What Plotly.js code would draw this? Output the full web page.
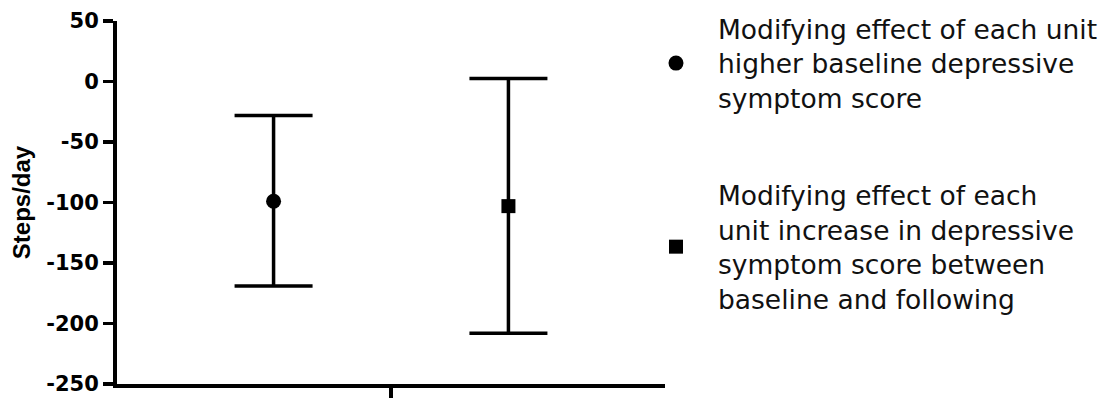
<!DOCTYPE html>
<html>
<head>
<meta charset="utf-8">
<script src="https://cdn.plot.ly/plotly-3.0.1.min.js"></script>
<style>html,body{margin:0;padding:0;background:#fff;}#chart{width:1112px;height:399px;}</style>
</head>
<body>
<div id="chart"></div>
<script>
// Data
var seriesNames = [
  "Modifying effect of each unit<br>higher baseline depressive<br>symptom score",
  "Modifying effect of each<br>unit increase in depressive<br>symptom score between<br>baseline and following"
];
var estimates = [-99, -103];
var upperCI = [-28, 2.5];
var lowerCI = [-169, -208];
var markerSymbols = ["circle", "square"];
var yTickVals = [50, 0, -50, -100, -150, -200, -250];
var yTickText = ["50", "0", "-50", "-100", "-150", "-200", "-250"];
var yTitle = "Steps/day";

var traces = estimates.map(function (est, i) {
  return {
    type: "scatter",
    mode: "markers",
    name: seriesNames[i],
    legendgroup: "g" + i,
    x: [i + 1],
    y: [est],
    marker: { symbol: markerSymbols[i], size: i === 0 ? 15 : 14, color: "#000" },
    error_y: {
      type: "data",
      symmetric: false,
      array: [upperCI[i] - est],
      arrayminus: [est - lowerCI[i]],
      color: "#000",
      thickness: 3.5,
      width: 39
    }
  };
});

var layout = {
  width: 1112,
  height: 399,
  margin: { l: 117, r: 447, t: 21, b: 15, autoexpand: false },
  paper_bgcolor: "#fff",
  plot_bgcolor: "#fff",
  showlegend: true,
  xaxis: {
    range: [1/3, 8/3],
    showgrid: false,
    zeroline: false,
    showline: true,
    linecolor: "#000",
    linewidth: 4,
    ticks: "outside",
    ticklen: 10,
    tickwidth: 3.5,
    tickcolor: "#000",
    tickvals: [1.5],
    ticktext: [""],
    fixedrange: true
  },
  yaxis: {
    range: [-250, 50],
    showgrid: false,
    zeroline: false,
    showline: true,
    linecolor: "#000",
    linewidth: 4,
    ticks: "outside",
    ticklen: 10,
    tickwidth: 3.5,
    tickcolor: "#000",
    tickvals: yTickVals,
    ticktext: yTickText,
    tickfont: { family: "DejaVu Sans", size: 21, weight: "bold", color: "#000" },
    title: { text: yTitle, font: { family: "Liberation Sans", size: 24, weight: "bold", color: "#000" }, standoff: 10 },
    fixedrange: true
  },
  legend: {
    x: 0.9434,
    xanchor: "left",
    y: 1.0443,
    yanchor: "top",
    maxheight: 420,
    itemwidth: 74,
    font: { family: "DejaVu Sans", size: 26.5, color: "#111" },
    tracegroupgap: 60,
    valign: "middle",
    bgcolor: "rgba(0,0,0,0)"
  }
};

Plotly.newPlot("chart", traces, layout, { displayModeBar: false, staticPlot: true });
</script>
</body>
</html>
